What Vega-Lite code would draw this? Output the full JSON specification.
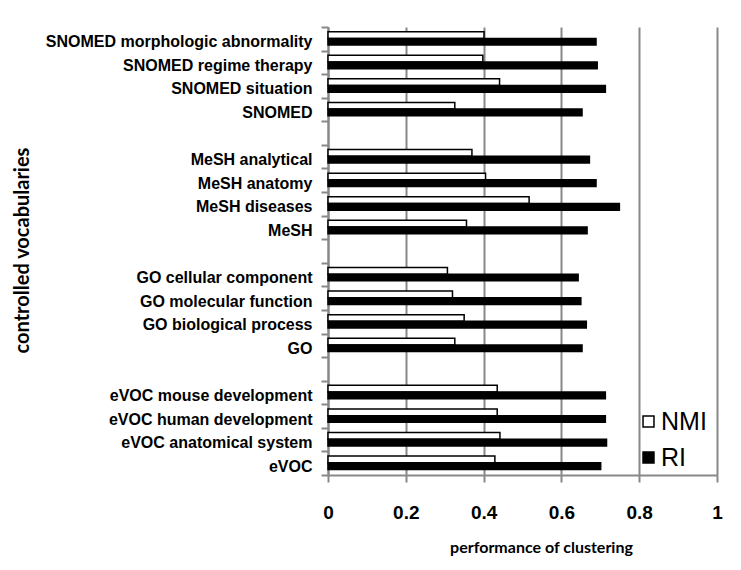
{
  "$schema": "https://vega.github.io/schema/vega-lite/v6.json",
  "autosize": {"type": "none"},
  "width": 389,
  "height": 448,
  "padding": {"left": 328, "top": 27, "right": 24, "bottom": 95},
  "background": "white",
  "data": {
    "values": [
      {"vocab": "SNOMED morphologic abnormality", "metric": "NMI", "value": 0.401},
      {"vocab": "SNOMED morphologic abnormality", "metric": "RI", "value": 0.689},
      {"vocab": "SNOMED regime therapy", "metric": "NMI", "value": 0.398},
      {"vocab": "SNOMED regime therapy", "metric": "RI", "value": 0.692},
      {"vocab": "SNOMED situation", "metric": "NMI", "value": 0.441},
      {"vocab": "SNOMED situation", "metric": "RI", "value": 0.713},
      {"vocab": "SNOMED", "metric": "NMI", "value": 0.326},
      {"vocab": "SNOMED", "metric": "RI", "value": 0.653},
      {"vocab": "MeSH analytical", "metric": "NMI", "value": 0.37},
      {"vocab": "MeSH analytical", "metric": "RI", "value": 0.672},
      {"vocab": "MeSH anatomy", "metric": "NMI", "value": 0.405},
      {"vocab": "MeSH anatomy", "metric": "RI", "value": 0.689},
      {"vocab": "MeSH diseases", "metric": "NMI", "value": 0.517},
      {"vocab": "MeSH diseases", "metric": "RI", "value": 0.749},
      {"vocab": "MeSH", "metric": "NMI", "value": 0.356},
      {"vocab": "MeSH", "metric": "RI", "value": 0.666},
      {"vocab": "GO cellular component", "metric": "NMI", "value": 0.307},
      {"vocab": "GO cellular component", "metric": "RI", "value": 0.643},
      {"vocab": "GO molecular function", "metric": "NMI", "value": 0.32},
      {"vocab": "GO molecular function", "metric": "RI", "value": 0.65},
      {"vocab": "GO biological  process", "metric": "NMI", "value": 0.35},
      {"vocab": "GO biological  process", "metric": "RI", "value": 0.664},
      {"vocab": "GO", "metric": "NMI", "value": 0.326},
      {"vocab": "GO", "metric": "RI", "value": 0.653},
      {"vocab": "eVOC mouse development", "metric": "NMI", "value": 0.435},
      {"vocab": "eVOC mouse development", "metric": "RI", "value": 0.713},
      {"vocab": "eVOC human development", "metric": "NMI", "value": 0.435},
      {"vocab": "eVOC human development", "metric": "RI", "value": 0.713},
      {"vocab": "eVOC anatomical system", "metric": "NMI", "value": 0.442},
      {"vocab": "eVOC anatomical system", "metric": "RI", "value": 0.716},
      {"vocab": "eVOC", "metric": "NMI", "value": 0.429},
      {"vocab": "eVOC", "metric": "RI", "value": 0.701}
    ]
  },
  "mark": {"type": "bar", "stroke": "black", "strokeWidth": 1.5},
  "encoding": {
    "y": {
      "field": "vocab",
      "type": "nominal",
      "scale": {
        "domain": [
          "SNOMED morphologic abnormality", "SNOMED regime therapy", "SNOMED situation", "SNOMED", " ",
          "MeSH analytical", "MeSH anatomy", "MeSH diseases", "MeSH", "  ",
          "GO cellular component", "GO molecular function", "GO biological  process", "GO", "   ",
          "eVOC mouse development", "eVOC human development", "eVOC anatomical system", "eVOC"
        ],
        "paddingInner": 0,
        "paddingOuter": 0
      },
      "axis": {
        "title": "controlled vocabularies",
        "titleFont": "Lato",
        "titleFontSize": 20,
        "titleFontWeight": "bold",
        "titleColor": "black",
        "titleX": -306,
        "titleY": 223,
        "titleAngle": 270,
        "titleBaseline": "middle",
        "titleAlign": "center",
        "labelFont": "Liberation Sans",
        "labelFontSize": 16,
        "labelFontWeight": "bold",
        "labelColor": "black",
        "labelPadding": 9,
        "labelOffset": 3,
        "labelLimit": 400,
        "tickBand": "extent",
        "tickSize": 7,
        "tickColor": "#888888",
        "tickWidth": 2,
        "domainColor": "#888888",
        "domainWidth": 2,
        "grid": false
      }
    },
    "yOffset": {
      "field": "metric",
      "type": "nominal",
      "scale": {"domain": ["NMI", "RI"], "paddingInner": 0, "paddingOuter": 0.76, "align": 0.46}
    },
    "x": {
      "field": "value",
      "type": "quantitative",
      "scale": {"domain": [0, 1], "nice": false},
      "axis": {
        "title": "performance of clustering",
        "titleFont": "Lato",
        "titleFontSize": 16,
        "titleFontWeight": "bold",
        "titleColor": "black",
        "titleX": 213,
        "titleY": 72,
        "titleBaseline": "middle",
        "values": [0, 0.2, 0.4, 0.6, 0.8, 1],
        "format": "~g",
        "labelFont": "Liberation Sans",
        "labelFontSize": 19,
        "labelFontWeight": "bold",
        "labelColor": "black",
        "labelBaseline": "middle",
        "labelPadding": 30,
        "labelFlush": false,
        "tickSize": 7,
        "tickColor": "#888888",
        "tickWidth": 2,
        "domainColor": "#888888",
        "domainWidth": 2,
        "grid": true,
        "gridColor": "#888888",
        "gridWidth": 2,
        "gridOpacity": 1
      }
    },
    "fill": {
      "field": "metric",
      "type": "nominal",
      "scale": {"domain": ["NMI", "RI"], "range": ["white", "black"]},
      "legend": {
        "title": null,
        "orient": "none",
        "legendX": 308,
        "legendY": 382,
        "symbolType": "square",
        "symbolSize": 120,
        "symbolStrokeColor": "black",
        "symbolStrokeWidth": 1.5,
        "labelFont": "Liberation Sans",
        "labelFontSize": 25,
        "labelColor": "black",
        "labelOffset": 0,
        "rowPadding": 10
      }
    }
  },
  "config": {
    "view": {"stroke": null}
  }
}
